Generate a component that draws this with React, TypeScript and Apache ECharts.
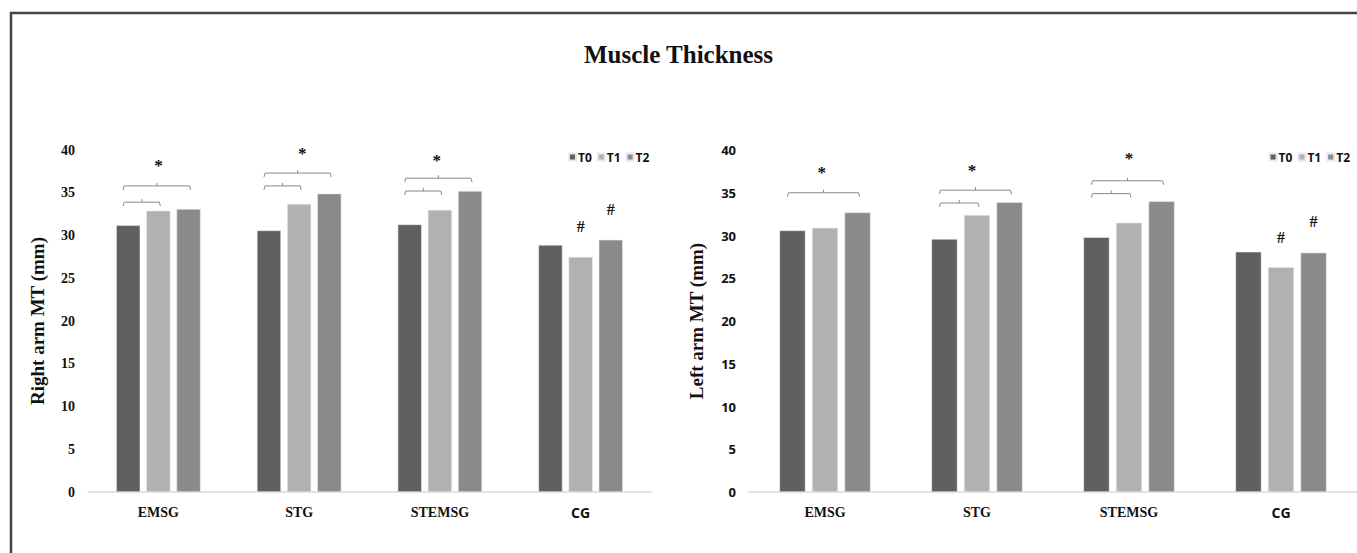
import React, { useEffect, useRef } from "react";
import * as echarts from "echarts";

const categories = ["EMSG", "STG", "STEMSG", "CG"];
const timeNames = ["T0", "T1", "T2"];
const timeColors = ["#5f5f5f", "#b1b1b1", "#8a8a8a"];

// Right arm MT (mm)
const rightT0 = [31.2, 30.6, 31.3, 28.9];
const rightT1 = [32.9, 33.7, 33.0, 27.5];
const rightT2 = [33.1, 34.9, 35.2, 29.5];

// Left arm MT (mm)
const leftT0 = [30.6, 29.6, 29.8, 28.1];
const leftT1 = [30.9, 32.4, 31.5, 26.3];
const leftT2 = [32.7, 33.9, 34.0, 28.0];

const yTicks = { min: 0, max: 40, interval: 5 };

// brackets: [categoryIndex, fromBar, toBar, level (mm)]
const rightArmBrackets = [
  [0, 0, 1, 33.9], [0, 0, 2, 35.8],
  [1, 0, 1, 35.8], [1, 0, 2, 37.3],
  [2, 0, 1, 35.2], [2, 0, 2, 36.7],
];
const leftArmBrackets = [
  [0, 0, 2, 35.0],
  [1, 0, 1, 33.8], [1, 0, 2, 35.3],
  [2, 0, 1, 34.9], [2, 0, 2, 36.4],
];
// significance marks: [categoryIndex, barPosition, level (mm), symbol]
const rightArmMarks: [number, number, number, string][] = [
  [0, 1, 38.5, "*"], [1, 1.1, 40.0, "*"], [2, 0.9, 39.1, "*"],
  [3, 1, 31.1, "#"], [3, 2, 33.0, "#"],
];
const leftArmMarks: [number, number, number, string][] = [
  [0, 0.9, 37.7, "*"], [1, 0.85, 38.0, "*"], [2, 1, 39.4, "*"],
  [3, 1, 29.8, "#"], [3, 2, 31.6, "#"],
];

const SERIF = "'Liberation Serif', 'DejaVu Serif', serif";
const SANS = "'Open Sans', 'Liberation Sans', sans-serif";

function barGeom(api: any) {
  const band = api.size([1, 0])[0];
  const w = (band * 0.6) / 3.5;
  return { w, step: w * 1.25 };
}

function bracketSeries(grid: number, data: number[][]) {
  return {
    type: "custom",
    xAxisIndex: grid,
    yAxisIndex: grid,
    silent: true,
    clip: false,
    encode: { x: 0, y: 3 },
    data,
    renderItem: (params: any, api: any) => {
      const cat = api.value(0);
      const a = api.value(1);
      const b = api.value(2);
      const c = api.coord([cat, api.value(3)]);
      const { step } = barGeom(api);
      const x1 = c[0] + (a - 1) * step - 5;
      const x2 = c[0] + (b - 1) * step + 2;
      const y = c[1];
      const xm = (x1 + x2) / 2;
      return {
        type: "group",
        children: [
          {
            type: "polyline",
            shape: { points: [[x1, y + 4], [x1 + 1, y], [x2 - 1, y], [x2, y + 4]] },
            style: { stroke: "#8a8a8a", fill: "none", lineWidth: 1 },
          },
          {
            type: "line",
            shape: { x1: xm, y1: y, x2: xm, y2: y - 3 },
            style: { stroke: "#8a8a8a", lineWidth: 1 },
          },
        ],
      };
    },
  };
}

function markSeries(grid: number, marks: [number, number, number, string][]) {
  return {
    type: "custom",
    xAxisIndex: grid,
    yAxisIndex: grid,
    silent: true,
    clip: false,
    encode: { x: 0, y: 2 },
    data: marks.map((m) => [m[0], m[1], m[2]]),
    renderItem: (params: any, api: any) => {
      const c = api.coord([api.value(0), api.value(2)]);
      const { step } = barGeom(api);
      const sym = marks[params.dataIndex][3];
      return {
        type: "text",
        x: c[0] + (api.value(1) - 1) * step,
        y: c[1] + (sym === "*" ? 3 : 0),
        style: {
          text: sym,
          fill: "#111",
          font: sym === "*" ? `bold 17px ${SERIF}` : `bold 16px ${SERIF}`,
          textAlign: "center",
          textVerticalAlign: "middle",
        },
      };
    },
  };
}

function bars(grid: number, values: number[][]) {
  return values.map((v, i) => ({
    type: "bar",
    name: timeNames[i],
    xAxisIndex: grid,
    yAxisIndex: grid,
    data: v,
    barGap: "25%",
    barCategoryGap: "40%",
    itemStyle: { color: timeColors[i], borderColor: "#e8e8e8", borderWidth: 0.6 },
  }));
}

export default function App() {
  const ref = useRef<HTMLDivElement>(null);
  useEffect(() => {
    if (!ref.current) return;
    const chart = echarts.init(ref.current, undefined, { renderer: "svg" });
    const catLabel = (fontFamily: string) => ({
      fontFamily,
      fontWeight: "bold",
      fontSize: 14,
      color: "#111",
      margin: 13,
      rich: {
        s: { fontFamily: SANS, fontWeight: "bold", fontSize: 14, color: "#111" },
      },
      formatter: (v: string) => (v === "CG" ? `{s|${v}}` : v),
    });
    const yAxisBase = (name: string, labelFont: string, labelSize: number, nameGap: number) => ({
      type: "value",
      ...yTicks,
      name,
      nameLocation: "middle",
      nameGap,
      nameRotate: 90,
      nameTextStyle: { fontFamily: SERIF, fontWeight: "bold", fontSize: 19, color: "#111" },
      axisLine: { show: false },
      axisTick: { show: false },
      splitLine: { show: false },
      axisLabel: { fontFamily: labelFont, fontWeight: "bold", fontSize: labelSize, color: "#111", margin: 13 },
    });
    const legendStyle = {
      top: 146,
      data: timeNames,
      icon: "rect",
      itemWidth: 7,
      itemHeight: 7,
      itemGap: 5,
      selectedMode: false,
      textStyle: { fontFamily: SANS, fontWeight: "bold", fontSize: 12, color: "#111", padding: [0, 0, 0, -3] },
    };
    chart.setOption({
      animation: false,
      backgroundColor: "#fff",
      title: {
        text: "Muscle Thickness",
        left: "center",
        top: 37,
        textStyle: { fontFamily: SERIF, fontWeight: "bold", fontSize: 25, color: "#111" },
      },
      legend: [
        { ...legendStyle, left: 563 },
        { ...legendStyle, right: 2 },
      ],
      grid: [
        { left: 88, top: 150, width: 563, height: 342 },
        { left: 749, top: 150, width: 612, height: 342 },
      ],
      xAxis: [0, 1].map((g) => ({
        type: "category",
        gridIndex: g,
        data: categories,
        axisLine: { lineStyle: { color: "#d9d9d9", width: 1.5 } },
        axisTick: { show: false },
        axisLabel: catLabel(SERIF),
      })),
      yAxis: [
        { gridIndex: 0, ...yAxisBase("Right arm MT (mm)", SERIF, 14, 41) },
        { gridIndex: 1, ...yAxisBase("Left arm MT (mm)", SANS, 13, 43) },
      ],
      graphic: [
        {
          type: "polyline",
          silent: true,
          shape: { points: [[11, 553], [11, 13], [1357, 13]] },
          style: { stroke: "#444", lineWidth: 2.5, fill: "none" },
        },
      ],
      series: [
        ...bars(0, [rightT0, rightT1, rightT2]),
        ...bars(1, [leftT0, leftT1, leftT2]),
        bracketSeries(0, rightArmBrackets),
        bracketSeries(1, leftArmBrackets),
        markSeries(0, rightArmMarks),
        markSeries(1, leftArmMarks),
      ],
    });
    return () => chart.dispose();
  }, []);
  return (
    <div
      ref={ref}
      style={{ position: "fixed", left: 0, top: 0, width: 1357, height: 553 }}
    />
  );
}
